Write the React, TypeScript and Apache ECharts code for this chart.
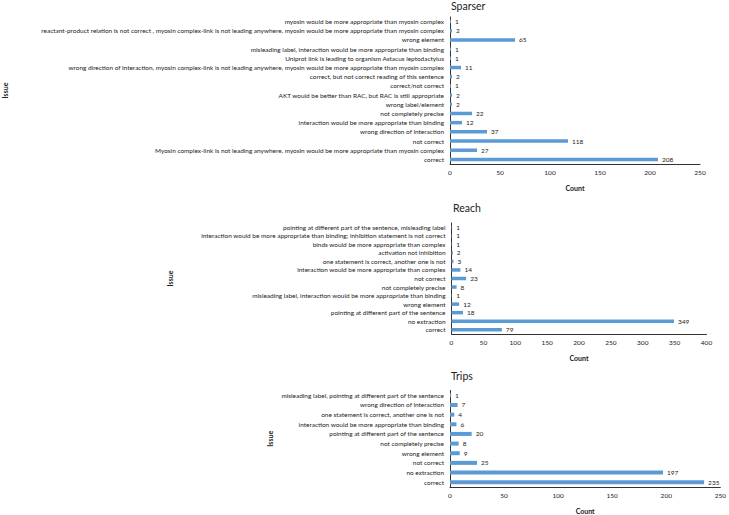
import React, { useEffect, useRef } from "react";
import * as echarts from "echarts";

const sparserCategories = [
  "correct",
  "Myosin complex-link is not leading anywhere, myosin would be more appropriate than myosin complex",
  "not correct",
  "wrong direction of interaction",
  "interaction would be more appropriate than binding",
  "not completely precise",
  "wrong label/element",
  "AKT would be better than RAC, but RAC is still appropriate",
  "correct/not correct",
  "correct, but not correct reading of this sentence",
  "wrong direction of interaction, myosin complex-link is not leading anywhere, myosin would be more appropriate than myosin complex",
  "Uniprot link is leading to organism Astacus leptodactylus",
  "misleading label, interaction would be more appropriate than binding",
  "wrong element",
  "reactant-product relation is not correct , myosin complex-link is not leading anywhere, myosin would be more appropriate than myosin complex",
  "myosin would be more appropriate than myosin complex",
];
const sparserValues = [208, 27, 118, 37, 12, 22, 2, 2, 1, 2, 11, 1, 1, 65, 2, 1];
const sparserTicks = [0, 50, 100, 150, 200, 250];

const reachCategories = [
  "correct",
  "no extraction",
  "pointing at different part of the sentence",
  "wrong element",
  "misleading label, interaction would be more appropriate than binding",
  "not completely precise",
  "not correct",
  "interaction would be more appropriate than complex",
  "one statement is correct, another one is not",
  "activation not inhibition",
  "binds would be more appropriate than complex",
  "interaction would be more appropriate than binding; inhibition statement is not correct",
  "pointing at different part of the sentence, misleading label",
];
const reachValues = [79, 349, 18, 12, 1, 8, 23, 14, 3, 2, 1, 1, 1];
const reachTicks = [0, 50, 100, 150, 200, 250, 300, 350, 400];

const tripsCategories = [
  "correct",
  "no extraction",
  "not correct",
  "wrong element",
  "not completely precise",
  "pointing at different part of the sentence",
  "interaction would be more appropriate than binding",
  "one statement is correct, another one is not",
  "wrong direction of interaction",
  "misleading label, pointing at different part of the sentence",
];
const tripsValues = [235, 197, 25, 9, 8, 20, 6, 4, 7, 1];
const tripsTicks = [0, 50, 100, 150, 200, 250];

const FONT = "Lato";
const BAR = "#5B9BD5";

export default function App() {
  const ref = useRef<HTMLDivElement>(null);
  useEffect(() => {
    if (!ref.current) return;
    const chart = echarts.init(ref.current, undefined, { renderer: "svg" });
    const panels = [
      { title: "Sparser", cats: sparserCategories, vals: sparserValues, ticks: sparserTicks, grid: { left: 449.5, right: 29, top: 17, height: 147 }, titleTop: 0, titleLeft: 451, issueGap: 442, barWidth: 3.5 },
      { title: "Reach", cats: reachCategories, vals: reachValues, ticks: reachTicks, grid: { left: 451.5, right: 22.5, top: 223, height: 111 }, titleTop: 202, titleLeft: 453, issueGap: 278, barWidth: 3.5 },
      { title: "Trips", cats: tripsCategories, vals: tripsValues, ticks: tripsTicks, grid: { left: 450, right: 6, top: 390.5, height: 100.5 }, titleTop: 370, titleLeft: 451, issueGap: 177, barWidth: 4 },
    ];
    const option: any = {
      animation: false,
      backgroundColor: "#ffffff",
      textStyle: { fontFamily: FONT },
      title: panels.map((p) => ({
        text: p.title,
        left: p.titleLeft,
        top: p.titleTop,
        padding: 0,
        textStyle: { fontFamily: FONT, fontSize: 10.5, fontWeight: "normal", color: "#222" },
      })),
      grid: panels.map((p) => ({ ...p.grid, containLabel: false })),
      xAxis: panels.map((p, i) => {
        const max = p.ticks[p.ticks.length - 1];
        return {
          type: "value",
          gridIndex: i,
          min: 0,
          max,
          interval: p.ticks[1] - p.ticks[0],
          name: "Count",
          nameLocation: "middle",
          nameGap: 20,
          nameTextStyle: { fontFamily: FONT, fontSize: 7, fontWeight: "bold", color: "#222" },
          axisLine: { show: true, lineStyle: { color: "#333", width: 1 } },
          axisTick: { show: false },
          splitLine: { show: false },
          axisLabel: { fontFamily: FONT, fontSize: 6.5, color: "#222", margin: 5 },
        };
      }),
      yAxis: panels.map((p, i) => ({
        type: "category",
        gridIndex: i,
        data: p.cats,
        name: "Issue",
        nameLocation: "middle",
        nameGap: p.issueGap,
        nameRotate: 90,
        nameTextStyle: { fontFamily: FONT, fontSize: 7, fontWeight: "bold", color: "#222" },
        axisLine: { show: true, lineStyle: { color: "#333", width: 1 } },
        axisTick: { show: false },
        axisLabel: { fontFamily: FONT, fontSize: 6.45, color: "#222", margin: 6, interval: 0 },
      })),
      series: panels.map((p, i) => ({
        type: "bar",
        xAxisIndex: i,
        yAxisIndex: i,
        data: p.vals,
        barWidth: p.barWidth,
        itemStyle: { color: BAR },
        label: { show: true, position: "right", distance: 4, fontFamily: FONT, fontSize: 6.5, color: "#222" },
      })),
    };
    chart.setOption(option);
    return () => chart.dispose();
  }, []);
  return <div ref={ref} style={{ width: 729, height: 515, position: "absolute", left: 0, top: 0 }} />;
}
